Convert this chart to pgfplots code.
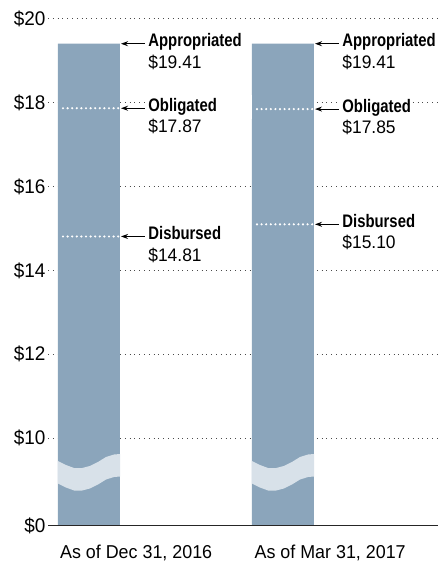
\documentclass[border=0pt]{standalone}
\usepackage{fontspec}
\setmainfont{Liberation Sans}[FakeStretch=0.96]
\newfontfamily\condfont{Liberation Sans}[FakeStretch=0.82]
\usepackage{pgfplots}
\pgfplotsset{compat=1.18}
\usetikzlibrary{arrows.meta}
\definecolor{barc}{HTML}{8BA5BB}
\definecolor{bandc}{HTML}{D8E1E9}
\definecolor{gridc}{HTML}{4A4A4A}
\definecolor{basec}{HTML}{262626}
\newcommand{\fs}{\fontsize{18.2}{21.5}\selectfont}
\tikzset{
  arr/.style={black, line width=1.1bp, {Stealth[length=7bp,width=5bp]}-},
  lab/.style={anchor=base west, inner xsep=1bp, inner ysep=1bp, fill=white, font=\fs\condfont\bfseries, yshift=-3bp},
  val/.style={anchor=base west, inner sep=1bp, font=\fs, yshift=-24.6bp},
  wdot/.style={white, line width=2.4bp, line cap=round, dash pattern=on 0bp off 4.6bp},
}
\begin{document}
\begin{tikzpicture}
\path[use as bounding box] (-48bp,-35bp) rectangle (390bp,526bp);
\begin{axis}[
  at={(0,0)}, anchor=south west,
  scale only axis, width=390bp, height=507bp,
  xmin=-0.2113, xmax=1.799,
  ymin=7.9, ymax=20,
  ytick={10,12,14,16,18,20},
  yticklabels={\$10,\$12,\$14,\$16,\$18,\$20},
  extra y ticks={7.9}, extra y tick labels={\$0},
  extra y tick style={grid=none},
  xtick={0.243,1.243},
  xticklabels={{As of Dec 31, 2016},{As of Mar 31, 2017}},
  xticklabel style={anchor=base, yshift=-32bp, font=\fontsize{18.7}{22}\selectfont},
  yticklabel style={font=\fontsize{19.8}{22}\selectfont, xshift=1bp},
  major tick length=0pt,
  axis line style={draw=none},
  ymajorgrids,
  grid style={gridc, line width=1bp, dash pattern=on 1bp off 3.8bp},
  clip=true,
]
% bars
\addplot[ybar, bar width=62bp, fill=barc, draw=none] coordinates {(0,19.41) (1,19.41)};
% axis break bands
\addplot[fill=bandc, draw=none] coordinates {
 (-0.16,9.451) (-0.119,9.356) (-0.077,9.284) (-0.036,9.284) (0.005,9.332) (0.046,9.427) (0.088,9.547) (0.129,9.606) (0.16,9.618)
 (0.16,9.081) (0.129,9.069) (0.088,9.010) (0.046,8.890) (0.005,8.795) (-0.036,8.747) (-0.077,8.747) (-0.119,8.819) (-0.16,8.914)};
\addplot[fill=bandc, draw=none] coordinates {
 (0.84,9.451) (0.881,9.356) (0.923,9.284) (0.964,9.284) (1.005,9.332) (1.046,9.427) (1.088,9.547) (1.129,9.606) (1.16,9.618)
 (1.16,9.081) (1.129,9.069) (1.088,9.010) (1.046,8.890) (1.005,8.795) (0.964,8.747) (0.923,8.747) (0.881,8.819) (0.84,8.914)};
% white dotted lines inside bars (obligated, disbursed)
\addplot[wdot] coordinates {(-0.134,17.87) (0.152,17.87)};
\addplot[wdot] coordinates {(-0.134,14.81) (0.152,14.81)};
\addplot[wdot] coordinates {(0.866,17.85) (1.152,17.85)};
\addplot[wdot] coordinates {(0.866,15.10) (1.152,15.10)};
% baseline
\draw[basec, line width=2.5bp] (axis cs:-0.2113,7.9) -- (axis cs:1.799,7.9);
% white box behind first Obligated label
\fill[white] (axis cs:0.30,17.62) rectangle (axis cs:0.842,18.18);
% annotations, bar 1
\draw[arr] (axis cs:0.165,19.41) -- (axis cs:0.29,19.41);
\node[lab] at (axis cs:0.300,19.41) {Appropriated};
\node[val] at (axis cs:0.300,19.41) {\$19.41};
\draw[arr] (axis cs:0.165,17.87) -- (axis cs:0.29,17.87);
\node[lab] at (axis cs:0.300,17.87) {Obligated};
\node[val] at (axis cs:0.300,17.87) {\$17.87};
\draw[arr] (axis cs:0.165,14.81) -- (axis cs:0.29,14.81);
\node[lab] at (axis cs:0.300,14.81) {Disbursed};
\node[val] at (axis cs:0.300,14.81) {\$14.81};
% annotations, bar 2
\draw[arr] (axis cs:1.165,19.41) -- (axis cs:1.29,19.41);
\node[lab] at (axis cs:1.300,19.41) {Appropriated};
\node[val] at (axis cs:1.300,19.41) {\$19.41};
\draw[arr] (axis cs:1.165,17.85) -- (axis cs:1.29,17.85);
\node[lab] at (axis cs:1.300,17.85) {Obligated};
\node[val] at (axis cs:1.300,17.85) {\$17.85};
\draw[arr] (axis cs:1.165,15.10) -- (axis cs:1.29,15.10);
\node[lab] at (axis cs:1.300,15.10) {Disbursed};
\node[val] at (axis cs:1.300,15.10) {\$15.10};
\end{axis}
\end{tikzpicture}
\end{document}
